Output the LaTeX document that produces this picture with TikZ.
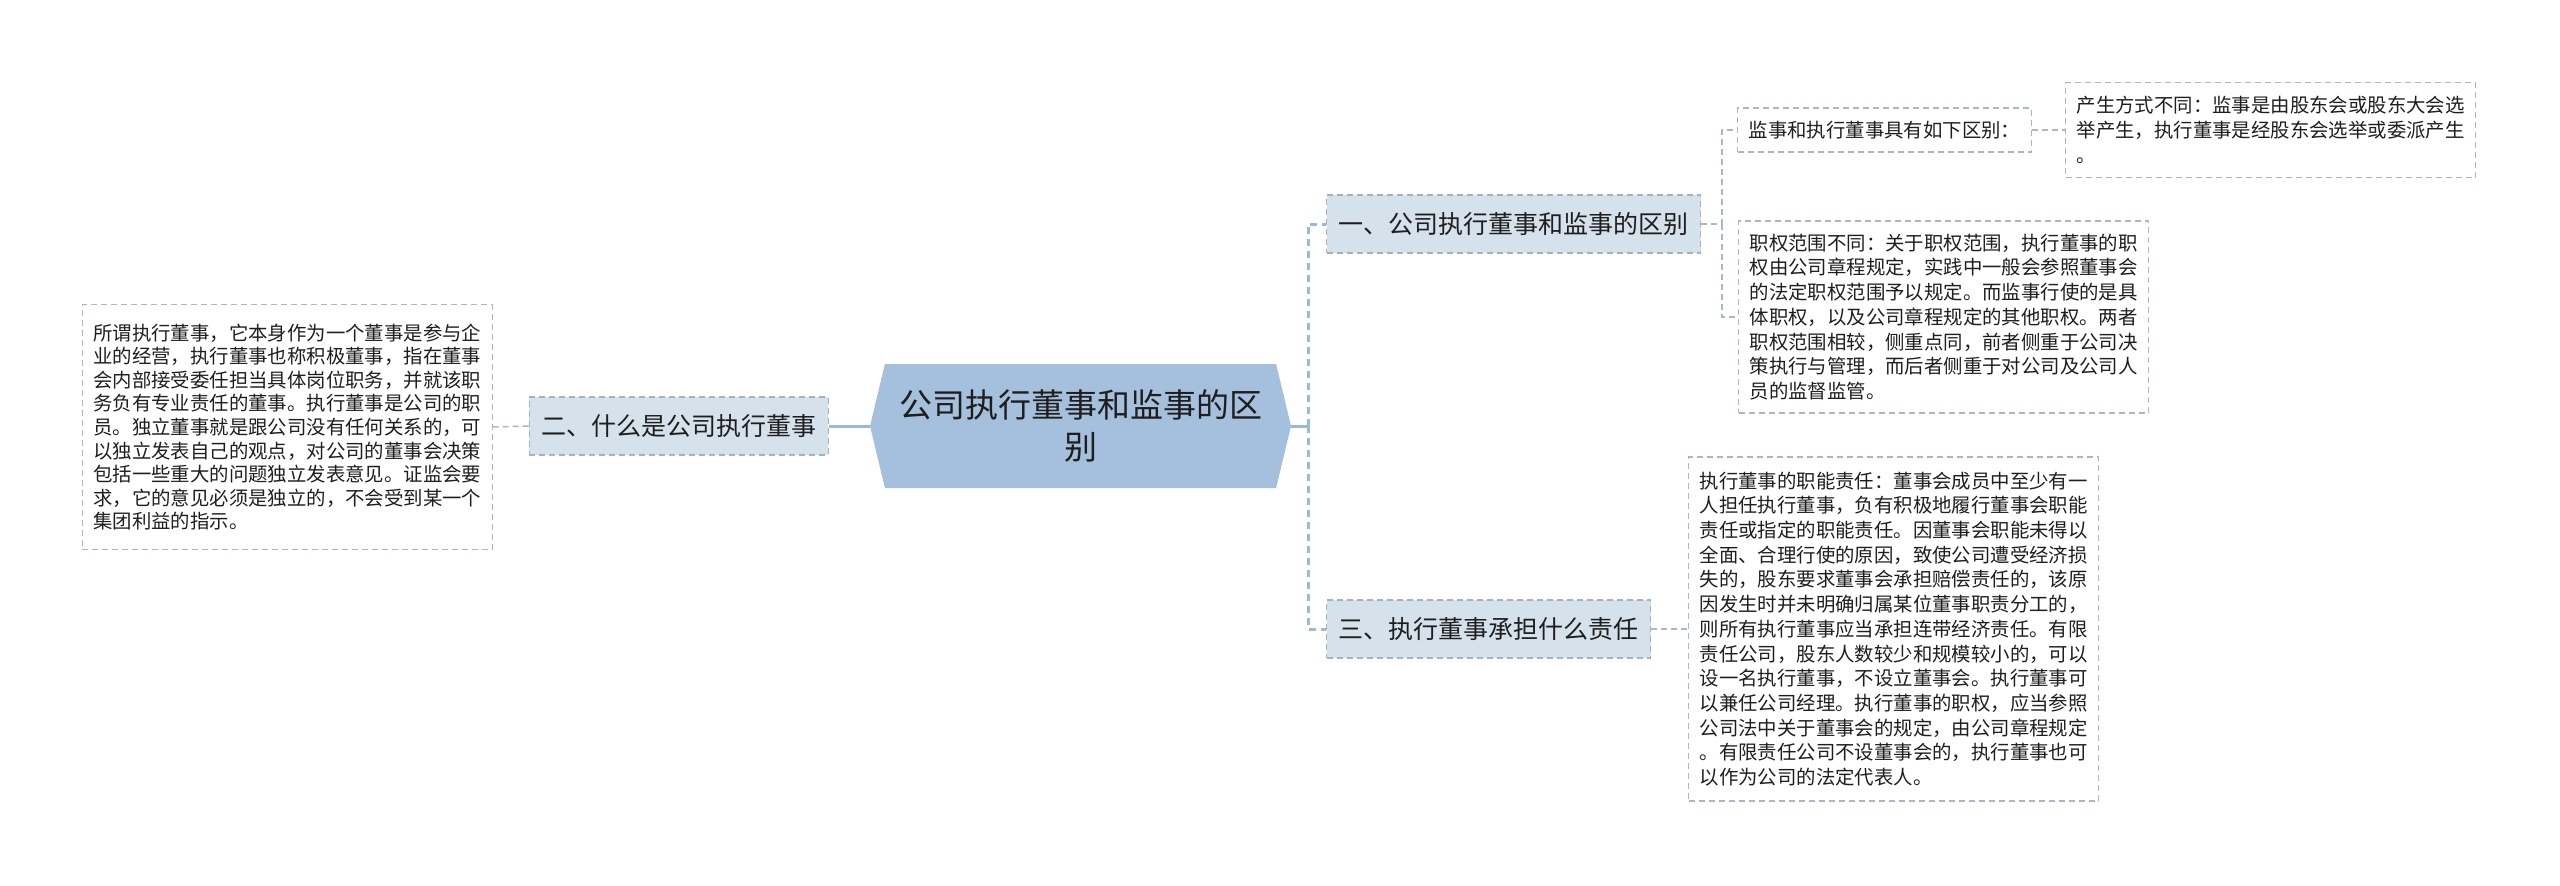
\documentclass[tikz,border=0pt]{standalone}
\usepackage{fontspec}
\setmainfont{Noto Sans CJK SC}
\usetikzlibrary{shapes.symbols}

\definecolor{rootfill}{HTML}{A4C0DC}
\definecolor{topicfill}{HTML}{D5E1EB}
\definecolor{topicline}{HTML}{A2B4C4}
\definecolor{leafline}{HTML}{A9B8C6}
\definecolor{linkblue}{HTML}{9CB8D4}
\definecolor{inkgray}{HTML}{1E1E1E}

\tikzstyle{root} = [signal, signal to=west and east, signal pointer angle=153, fill=rootfill, text=inkgray, minimum width=421pt, minimum height=124pt, inner sep=0pt, align=center, font=\fontsize{33}{42}\selectfont]
\tikzstyle{topic} = [draw=topicline, fill=topicfill, line width=1.3pt, dash pattern=on 6pt off 4pt, text=inkgray, minimum height=58pt, inner xsep=12pt, font=\fontsize{25}{30}\selectfont]
\tikzstyle{leaf} = [draw=leafline, fill=white, line width=1.3pt, dash pattern=on 6pt off 4pt, text=inkgray, inner xsep=11pt, inner ysep=8pt, align=left, font=\fontsize{19.4}{24.7}\selectfont]
\tikzstyle{rootlink} = [draw=linkblue, line width=3pt]
\tikzstyle{branch} = [draw=linkblue, line width=3pt, dash pattern=on 7pt off 5pt]
\tikzstyle{twig} = [draw=leafline, line width=1.5pt, dash pattern=on 6pt off 4pt]

\begin{document}
\begin{tikzpicture}[x=1pt, y=-1pt]
\useasboundingbox[fill=white] (0,0) rectangle (2560,886);

% centre
\node[root] (root) at (1080.5,426) {公司执行董事和监事的区\\别};

% first level
\node[topic, anchor=west] (t1) at (1326,224) {一、公司执行董事和监事的区别};
\node[topic, anchor=east] (t2) at (829,426) {二、什么是公司执行董事};
\node[topic, anchor=west] (t3) at (1326,629) {三、执行董事承担什么责任};

% second level
\node[leaf, anchor=west, minimum height=44pt] (s1) at (1737,130) {监事和执行董事具有如下区别：};
\node[leaf, anchor=west, text width=388pt, minimum height=95pt] (s11) at (2065,130)
    {产生方式不同：监事是由股东会或股东大会选\\
     举产生，执行董事是经股东会选举或委派产生\\
     。};
\node[leaf, anchor=west, text width=388pt, minimum height=192pt] (s2) at (1738,317)
    {职权范围不同：关于职权范围，执行董事的职\\
     权由公司章程规定，实践中一般会参照董事会\\
     的法定职权范围予以规定。而监事行使的是具\\
     体职权，以及公司章程规定的其他职权。两者\\
     职权范围相较，侧重点同，前者侧重于公司决\\
     策执行与管理，而后者侧重于对公司及公司人\\
     员的监督监管。};
\node[leaf, anchor=east, text width=388pt, minimum height=245pt, font=\fontsize{19.4}{23.6}\selectfont] (l2) at (493,427)
    {所谓执行董事，它本身作为一个董事是参与企\\
     业的经营，执行董事也称积极董事，指在董事\\
     会内部接受委任担当具体岗位职务，并就该职\\
     务负有专业责任的董事。执行董事是公司的职\\
     员。独立董事就是跟公司没有任何关系的，可\\
     以独立发表自己的观点，对公司的董事会决策\\
     包括一些重大的问题独立发表意见。证监会要\\
     求，它的意见必须是独立的，不会受到某一个\\
     集团利益的指示。};
\node[leaf, anchor=west, text width=388pt, minimum height=344pt] (l3) at (1688,629)
    {执行董事的职能责任：董事会成员中至少有一\\
     人担任执行董事，负有积极地履行董事会职能\\
     责任或指定的职能责任。因董事会职能未得以\\
     全面、合理行使的原因，致使公司遭受经济损\\
     失的，股东要求董事会承担赔偿责任的，该原\\
     因发生时并未明确归属某位董事职责分工的，\\
     则所有执行董事应当承担连带经济责任。有限\\
     责任公司，股东人数较少和规模较小的，可以\\
     设一名执行董事，不设立董事会。执行董事可\\
     以兼任公司经理。执行董事的职权，应当参照\\
     公司法中关于董事会的规定，由公司章程规定\\
     。有限责任公司不设董事会的，执行董事也可\\
     以作为公司的法定代表人。};

% connectors
\coordinate (rj) at (1308,426);
\coordinate (j1) at (1722,224);
\draw[rootlink] (root.east) -- (rj);
\draw[branch] (rj) |- (t1.west);
\draw[branch] (rj) |- (t3.west);
\draw[rootlink] (root.west) -- (t2.east);
\draw[twig] (t2.west) -- (l2.east);
\draw[twig] (t1.east) -- (j1) |- (s1.west);
\draw[twig] (j1) |- (s2.west);
\draw[twig] (s1.east) -- (s11.west);
\draw[twig] (t3.east) -- (l3.west);
\end{tikzpicture}
\end{document}
